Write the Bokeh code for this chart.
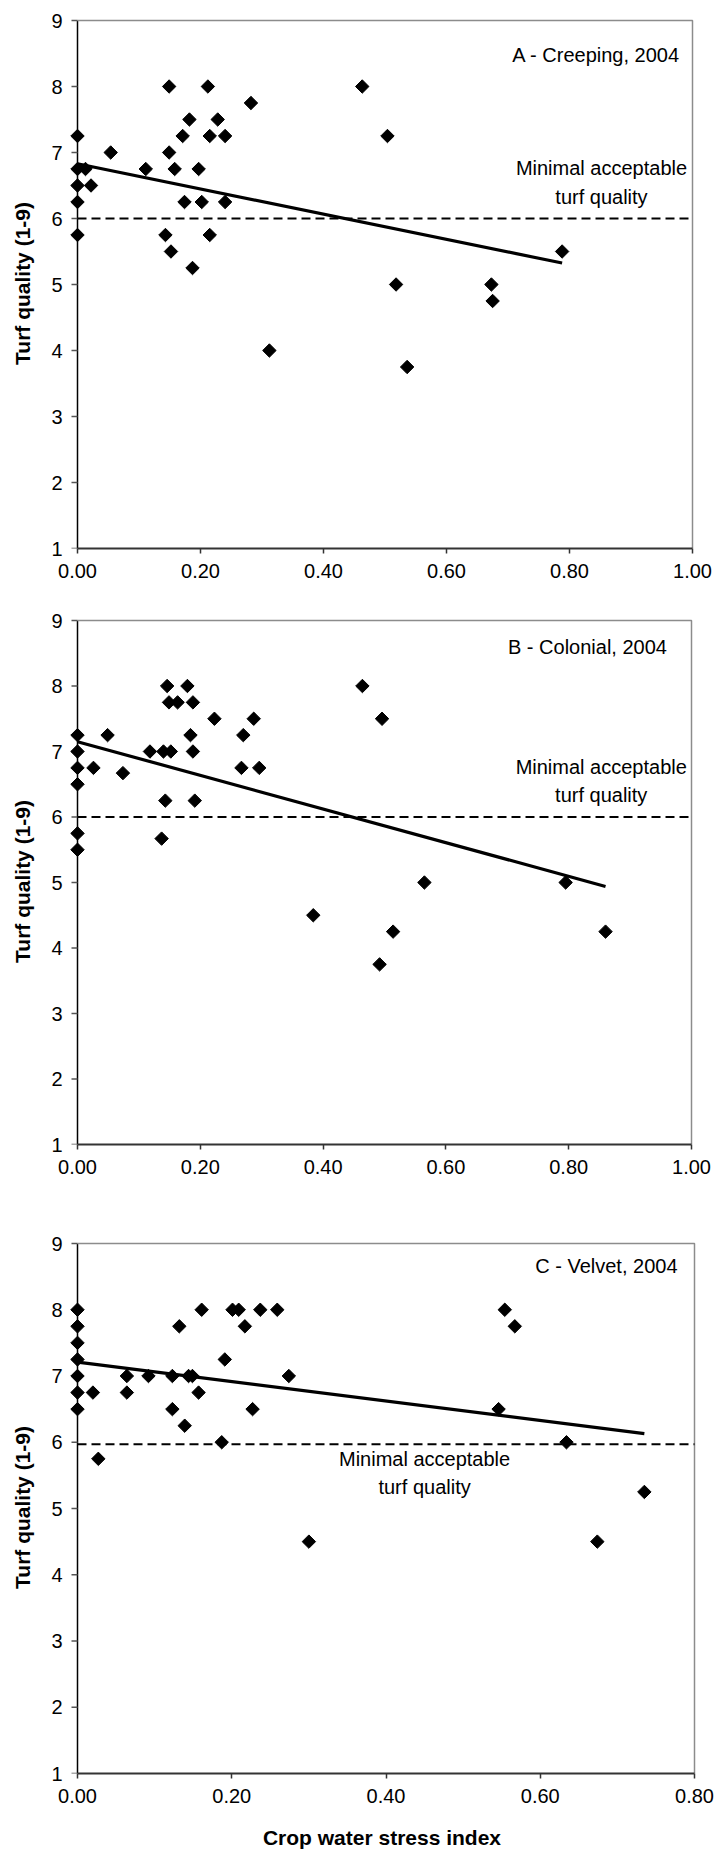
import numpy as np
from bokeh.plotting import figure
from bokeh.models import FixedTicker, PrintfTickFormatter, Label, Range1d, ColumnDataSource
from bokeh.layouts import column
from bokeh.embed import file_html
from bokeh.resources import INLINE

# Crop water stress index (CWSI) and turf quality ratings, 2004
cwsi_a = [0, 0, 0.013, 0, 0.022, 0, 0, 0.054, 0.111, 0.149, 0.149, 0.158, 0.143, 0.152,
          0.171, 0.182, 0.174, 0.187, 0.197, 0.202, 0.212, 0.215, 0.215, 0.228, 0.240,
          0.240, 0.282, 0.463, 0.504, 0.518, 0.673, 0.675, 0.788, 0.312, 0.536]
quality_a = [7.25, 6.75, 6.75, 6.5, 6.5, 6.25, 5.75, 7.0, 6.75, 8.0, 7.0, 6.75, 5.75, 5.5,
             7.25, 7.5, 6.25, 5.25, 6.75, 6.25, 8.0, 7.25, 5.75, 7.5, 7.25,
             6.25, 7.75, 8.0, 7.25, 5.0, 5.0, 4.75, 5.5, 4.0, 3.75]

cwsi_b = [0, 0, 0, 0.026, 0, 0, 0, 0.049, 0.074, 0.118, 0.140, 0.152, 0.146, 0.149, 0.163,
          0.143, 0.137, 0.179, 0.188, 0.184, 0.188, 0.191, 0.223, 0.270, 0.267, 0.287,
          0.296, 0.464, 0.496, 0.384, 0.492, 0.514, 0.565, 0.795, 0.860]
quality_b = [7.25, 7.0, 6.75, 6.75, 6.5, 5.75, 5.5, 7.25, 6.67, 7.0, 7.0, 7.0, 8.0, 7.75, 7.75,
             6.25, 5.67, 8.0, 7.75, 7.25, 7.0, 6.25, 7.5, 7.25, 6.75, 7.5,
             6.75, 8.0, 7.5, 4.5, 3.75, 4.25, 5.0, 5.0, 4.25]

cwsi_c = [0, 0, 0, 0, 0, 0, 0, 0.020, 0.064, 0.064, 0.092, 0.123, 0.132, 0.144, 0.149,
          0.157, 0.161, 0.191, 0.201, 0.209, 0.217, 0.237, 0.259, 0.274, 0.554, 0.567,
          0.027, 0.123, 0.139, 0.187, 0.227, 0.300, 0.546, 0.634, 0.674, 0.735]
quality_c = [8.0, 7.75, 7.5, 7.25, 7.0, 6.75, 6.5, 6.75, 7.0, 6.75, 7.0, 7.0, 7.75, 7.0, 7.0,
             6.75, 8.0, 7.25, 8.0, 8.0, 7.75, 8.0, 8.0, 7.0, 8.0, 7.75,
             5.75, 6.5, 6.25, 6.0, 6.5, 4.5, 6.5, 6.0, 4.5, 5.25]

# Linear trend (intercept, slope) for each cultivar
trend_a = [6.83, -1.91]
trend_b = [7.15, -2.57]
trend_c = [7.21, -1.47]

# Minimal acceptable turf quality
threshold = [6.0, 6.0, 5.97]

panel_titles = ["A - Creeping, 2004", "B - Colonial, 2004", "C - Velvet, 2004"]
x_ticks_ab = [0.0, 0.2, 0.4, 0.6, 0.8, 1.0]
x_ticks_c = [0.0, 0.2, 0.4, 0.6, 0.8]
y_ticks = [1, 2, 3, 4, 5, 6, 7, 8, 9]
y_min, y_max = 1, 9
threshold_text = ["Minimal acceptable", "turf quality"]

FONT = "Liberation Sans"
PAD_L = 10   # room left of the y axis so markers at CWSI = 0 are drawn whole
PAD_R = 2
PAD_T = 2
Y_TICK_LEN = 6


def panel(xs, ys, trend, thr, title, xticks, xmax, box, height, title_pos, thr_pos,
          x_title=None):
    # box: pixel position of the axes rectangle (left, right, top, bottom) in the figure
    L, R, T, B = box
    W = 720
    aw, ah = R - L, B - T
    px = xmax / aw                      # data units per pixel along x
    x0 = -PAD_L * px
    x1 = xmax + PAD_R * px
    y1 = y_max + PAD_T * (y_max - y_min) / ah
    p = figure(frame_width=aw + PAD_L + PAD_R, frame_height=ah + PAD_T,
               min_border_left=L - PAD_L, min_border_right=W - R - PAD_R,
               min_border_top=T - PAD_T, min_border_bottom=height - B,
               x_range=Range1d(x0, x1), y_range=Range1d(y_min, y1),
               output_backend="svg", toolbar_location=None)
    p.grid.visible = False
    p.background_fill_color = "white"
    p.border_fill_color = "white"
    p.outline_line_color = None

    for ax in (p.xaxis[0], p.yaxis[0]):
        ax.major_label_text_font = FONT
        ax.major_label_text_font_size = "20px"
        ax.major_label_text_color = "black"
        ax.minor_tick_line_color = None
        ax.major_tick_in = 0
        ax.axis_label_text_font = FONT
        ax.axis_label_text_font_style = "bold"
        ax.axis_label_text_font_size = "21px"
        ax.axis_label_text_color = "black"

    xa = p.xaxis[0]
    xa.ticker = FixedTicker(ticks=xticks)
    xa.formatter = PrintfTickFormatter(format="%.2f")
    xa.bounds = (0, xmax)
    xa.axis_line_color = "#333333"
    xa.axis_line_width = 2
    xa.major_tick_line_color = "#333333"
    xa.major_tick_line_width = 1.5
    xa.major_tick_out = 5
    xa.major_label_standoff = 10
    if x_title:
        xa.axis_label = x_title
        xa.axis_label_standoff = 20

    # the left axis supplies labels only; its line and ticks are drawn at CWSI = 0 below
    ya = p.yaxis[0]
    ya.ticker = FixedTicker(ticks=y_ticks)
    ya.axis_line_color = None
    ya.major_tick_line_color = None
    ya.major_tick_out = 0
    ya.major_label_standoff = PAD_L - 5
    ya.axis_label = "Turf quality (1-9)"
    ya.axis_label_standoff = 14

    # y axis line and outward ticks
    p.line([0, 0], [y_min, y_max], line_color="black", line_width=1.5)
    p.segment(x0=[0] * len(y_ticks), y0=y_ticks, x1=[-Y_TICK_LEN * px] * len(y_ticks),
              y1=y_ticks, line_color="#555555", line_width=1.5)

    # grey top and right edges of the plot area
    p.line([0, xmax, xmax], [y_max, y_max, y_min], line_color="#8c8c8c", line_width=1.5)

    # threshold line
    p.line([0, xmax], [thr, thr], line_color="black", line_width=2, line_dash="9 5")

    # trend line over the observed CWSI span
    x_end = max(xs)
    p.line([0, x_end], [trend[0], trend[0] + trend[1] * x_end],
           line_color="black", line_width=3.2)

    src = ColumnDataSource(dict(x=xs, y=ys))
    p.scatter("x", "y", source=src, marker="square", angle=np.pi / 4, size=9.5,
              fill_color="black", line_color="black")

    p.add_layout(Label(x=title_pos[0], y=title_pos[1], text=title, text_align="right",
                       text_baseline="middle", text_font=FONT, text_font_size="20px",
                       text_color="black"))
    p.add_layout(Label(x=thr_pos[0], y=thr_pos[1], text=threshold_text[0], text_align="center",
                       text_baseline="middle", text_font=FONT, text_font_size="20px",
                       text_color="black"))
    p.add_layout(Label(x=thr_pos[0], y=thr_pos[2], text=threshold_text[1], text_align="center",
                       text_baseline="middle", text_font=FONT, text_font_size="20px",
                       text_color="black"))
    return p


pa = panel(cwsi_a, quality_a, trend_a, threshold[0], panel_titles[0], x_ticks_ab, 1.0,
           (77, 692, 20, 548), 600, (0.98, 8.48), (0.852, 6.77, 6.33))
pb = panel(cwsi_b, quality_b, trend_b, threshold[1], panel_titles[1], x_ticks_ab, 1.0,
           (75, 689, 20, 544), 600, (0.96, 8.59), (0.853, 6.76, 6.33))
pc = panel(cwsi_c, quality_c, trend_c, threshold[2], panel_titles[2], x_ticks_c, 0.8,
           (77, 694, 43, 573), 670, (0.778, 8.66), (0.45, 5.75, 5.32),
           x_title="Crop water stress index")

layout = column(pa, pb, pc, spacing=0)
open("out.html", "w").write(file_html(layout, INLINE))
